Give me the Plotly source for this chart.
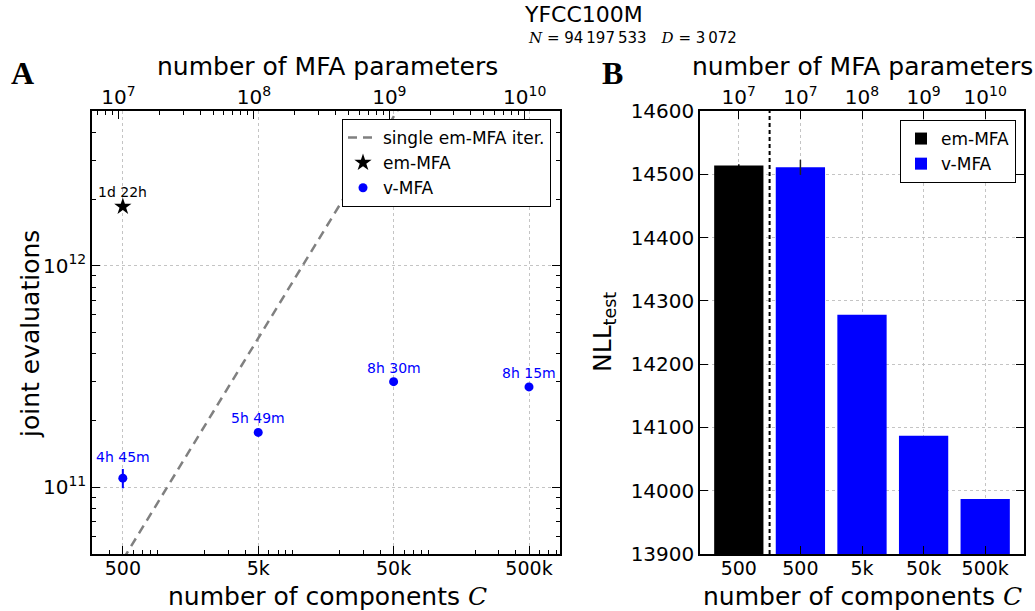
import numpy as np
import plotly.graph_objects as go

# ---- data -------------------------------------------------------------
N_POINTS = 94197533          # N, number of data points
DIM = 3072                   # D, data dimensionality
PARAMS_PER_COMPONENT = 21505 # MFA parameters per mixture component

# panel A: joint evaluations vs number of components
em_C = [500]
em_evals = [1.85e12]
em_labels = ["1d 22h"]

v_C = [500, 5000, 50000, 500000]
v_evals = [1.10e11, 1.77e11, 3.00e11, 2.84e11]
v_err = [1.1e10, 2e9, 3e9, 3e9]
v_labels = ["4h 45m", "5h 49m", "8h 30m", "8h 15m"]

c_ticks = [500, 5000, 50000, 500000]
c_ticktext = ["500", "5k", "50k", "500k"]
param_ticks = [1e7, 1e8, 1e9, 1e10]
param_ticktext = ["10<sup>7</sup>", "10<sup>8</sup>", "10<sup>9</sup>", "10<sup>10</sup>"]
eval_ticks = [1e11, 1e12]
eval_ticktext = ["10<sup>11</sup>", "10<sup>12</sup>"]

# panel B: test NLL per model
bar_labels = ["500", "500", "5k", "50k", "500k"]
bar_param_labels = ["10<sup>7</sup>", "10<sup>7</sup>", "10<sup>8</sup>",
                    "10<sup>9</sup>", "10<sup>10</sup>"]
em_nll = [14514]
em_nll_err = [2]
v_nll = [14511, 14278, 14087, 13987]
v_nll_err = [12, 0, 0, 0]

# ---- layout helpers ---------------------------------------------------
W, H = 1035, 611
FONT = "DejaVu Sans"


def px_x(p):
    return p / W


def px_y(p):
    return 1 - p / H


C_RANGE = [np.log10(296), np.log10(847000)]
EVAL_RANGE = [np.log10(5e10), np.log10(5e12)]
P_RANGE = [r + np.log10(PARAMS_PER_COMPONENT) for r in C_RANGE]


def log_minor(lo, hi):
    vals = []
    for e in range(lo, hi + 1):
        for m in range(2, 10):
            vals.append(m * 10.0 ** e)
    return vals


dom_a_x = [px_x(92), px_x(560)]
dom_b_x = [px_x(700), px_x(1024)]
dom_y = [px_y(554), px_y(111)]

grid = dict(showgrid=True, gridcolor="#c4c4c4", griddash="dot", gridwidth=1)
spine = dict(showline=True, linecolor="black", linewidth=1.5, ticks="inside",
             ticklen=8, tickwidth=1, tickcolor="black", automargin=False,
             tickfont=dict(family=FONT, size=20, color="black"), zeroline=False)
minor_style = dict(ticks="inside", ticklen=4, tickwidth=1, tickcolor="black", showgrid=False)

fig = go.Figure()

# single em-MFA iteration cost: N * C joint evaluations
line_C = [10 ** C_RANGE[0], 10 ** C_RANGE[1]]
fig.add_trace(go.Scatter(
    x=line_C, y=[N_POINTS * c for c in line_C], mode="lines",
    line=dict(color="#808080", width=2.5, dash="9px,6px"),
    name="single em-MFA iter.", xaxis="x", yaxis="y", hoverinfo="skip"))

fig.add_trace(go.Scatter(
    x=em_C, y=em_evals, mode="markers",
    marker=dict(symbol="star", size=13, color="black"),
    name="em-MFA", xaxis="x", yaxis="y"))

fig.add_trace(go.Scatter(
    x=v_C, y=v_evals, mode="markers",
    marker=dict(symbol="circle", size=9, color="#0000ff"),
    error_y=dict(type="data", array=v_err, color="#0000ff", thickness=2, width=0),
    name="v-MFA", xaxis="x", yaxis="y"))

# invisible anchor for the parameter-count axis of panel A
fig.add_trace(go.Scatter(x=[1e8], y=[1e11], mode="markers", marker=dict(opacity=0),
                         showlegend=False, hoverinfo="skip", xaxis="x3", yaxis="y"))

# panel B bars
fig.add_trace(go.Bar(
    x=[0], y=em_nll, width=0.8, marker=dict(color="black", line=dict(width=0)),
    error_y=dict(type="data", array=em_nll_err, color="black", thickness=1.5, width=0),
    name="em-MFA", xaxis="x2", yaxis="y2", legend="legend2"))
fig.add_trace(go.Bar(
    x=list(range(1, len(v_nll) + 1)), y=v_nll, width=0.8,
    marker=dict(color="#0000ff", line=dict(width=0)),
    error_y=dict(type="data", array=v_nll_err, color="#222222", thickness=1.5, width=0),
    name="v-MFA", xaxis="x2", yaxis="y2", legend="legend2"))
fig.add_trace(go.Scatter(x=[0], y=[14000], mode="markers", marker=dict(opacity=0),
                         showlegend=False, hoverinfo="skip", xaxis="x4", yaxis="y2"))

# time labels on panel A
annotations = []
for c, v, t in zip(em_C, em_evals, em_labels):
    annotations.append(dict(x=np.log10(c), y=np.log10(v), xref="x", yref="y", text=t,
                            showarrow=False, yshift=15,
                            font=dict(family=FONT, size=14, color="black")))
for i, (c, v, t) in enumerate(zip(v_C, v_evals, v_labels)):
    annotations.append(dict(x=np.log10(c), y=np.log10(v), xref="x", yref="y", text=t,
                            showarrow=False, yshift=21 if i == 0 else 14,
                            font=dict(family=FONT, size=14, color="#0000ff")))

C_MATH = '<span style="font-family:DejaVu Serif"><i>C</i></span>'


def text_at(x, y, txt, size, **kw):
    d = dict(x=px_x(x), y=px_y(y), xref="paper", yref="paper", text=txt,
             showarrow=False, font=dict(family=kw.pop("family", FONT), size=size,
                                        color="black"),
             xanchor="center", yanchor="middle")
    d.update(kw)
    annotations.append(d)


text_at(583, 15, "YFCC100M", 22)
text_at(526, 38, '<span style="font-family:DejaVu Serif"><i>N</i></span> = 94\u2009197\u2009533'
        '\u2003<span style="font-family:DejaVu Serif"><i>D</i></span> = 3\u2009072', 15,
        xanchor="left")
text_at(22, 73, "<b>A</b>", 32, family="Liberation Serif")
text_at(612, 73, "<b>B</b>", 32, family="Liberation Serif")
text_at(327, 66, "number of MFA parameters", 25)
text_at(862, 67, "number of MFA parameters", 25)
text_at(327, 596, "number of components " + C_MATH, 25)
text_at(862, 596, "number of components " + C_MATH, 25)
text_at(30, 334, "joint evaluations", 25, textangle=-90)
text_at(604, 332, "NLL<sub>test</sub>", 25, textangle=-90)

bottom_font = dict(family=FONT, size=19, color="black")

fig.update_layout(
    width=W, height=H,
    margin=dict(l=0, r=0, t=0, b=0),
    paper_bgcolor="white", plot_bgcolor="white",
    barmode="overlay",
    font=dict(family=FONT, color="black"),
    annotations=annotations,
    xaxis=dict(type="log", domain=dom_a_x, anchor="y", range=C_RANGE,
               tickmode="array", tickvals=c_ticks, ticktext=c_ticktext,
               mirror=True, minor=dict(tickmode="array", tickvals=log_minor(2, 5), **minor_style),
               **grid, **{**spine, "tickfont": bottom_font}, ticklabelstandoff=-4),
    yaxis=dict(type="log", domain=dom_y, anchor="x", range=EVAL_RANGE,
               tickmode="array", tickvals=eval_ticks, ticktext=eval_ticktext,
               mirror="ticks", minor=dict(tickmode="array", tickvals=log_minor(10, 12), **minor_style),
               **grid, **spine),
    xaxis3=dict(type="log", overlaying="x", side="top", anchor="y", range=P_RANGE,
                tickmode="array", tickvals=param_ticks, ticktext=param_ticktext,
                minor=dict(tickmode="array", tickvals=log_minor(6, 10), **minor_style),
                showgrid=False, **spine, ticklabelstandoff=-3),
    xaxis2=dict(domain=dom_b_x, anchor="y2", range=[-0.63, 4.63],
                tickmode="array", tickvals=list(range(5)), ticktext=bar_labels,
                mirror=True, **grid, **{**spine, "tickfont": bottom_font}, ticklabelstandoff=-4),
    yaxis2=dict(domain=dom_y, anchor="x2", range=[13900, 14600], dtick=100,
                tickformat="d", mirror="ticks", **grid, **spine),
    xaxis4=dict(overlaying="x2", side="top", anchor="y2", range=[-0.63, 4.63],
                tickmode="array", tickvals=list(range(5)), ticktext=bar_param_labels,
                showgrid=False, **spine, ticklabelstandoff=-3),
    legend=dict(x=px_x(551), y=px_y(119), xanchor="right", yanchor="top",
                bgcolor="white", bordercolor="black", borderwidth=1,
                font=dict(family=FONT, size=17, color="black"), tracegroupgap=2),
    legend2=dict(x=px_x(1016), y=px_y(120), xanchor="right", yanchor="top",
                 bgcolor="white", bordercolor="black", borderwidth=1,
                 font=dict(family=FONT, size=17, color="black")),
    shapes=[dict(type="line", xref="x2", yref="y2 domain", x0=0.5, x1=0.5, y0=0, y1=1,
                 line=dict(color="black", width=2, dash="4px,3px"))],
)

fig.write_html("out.html")
